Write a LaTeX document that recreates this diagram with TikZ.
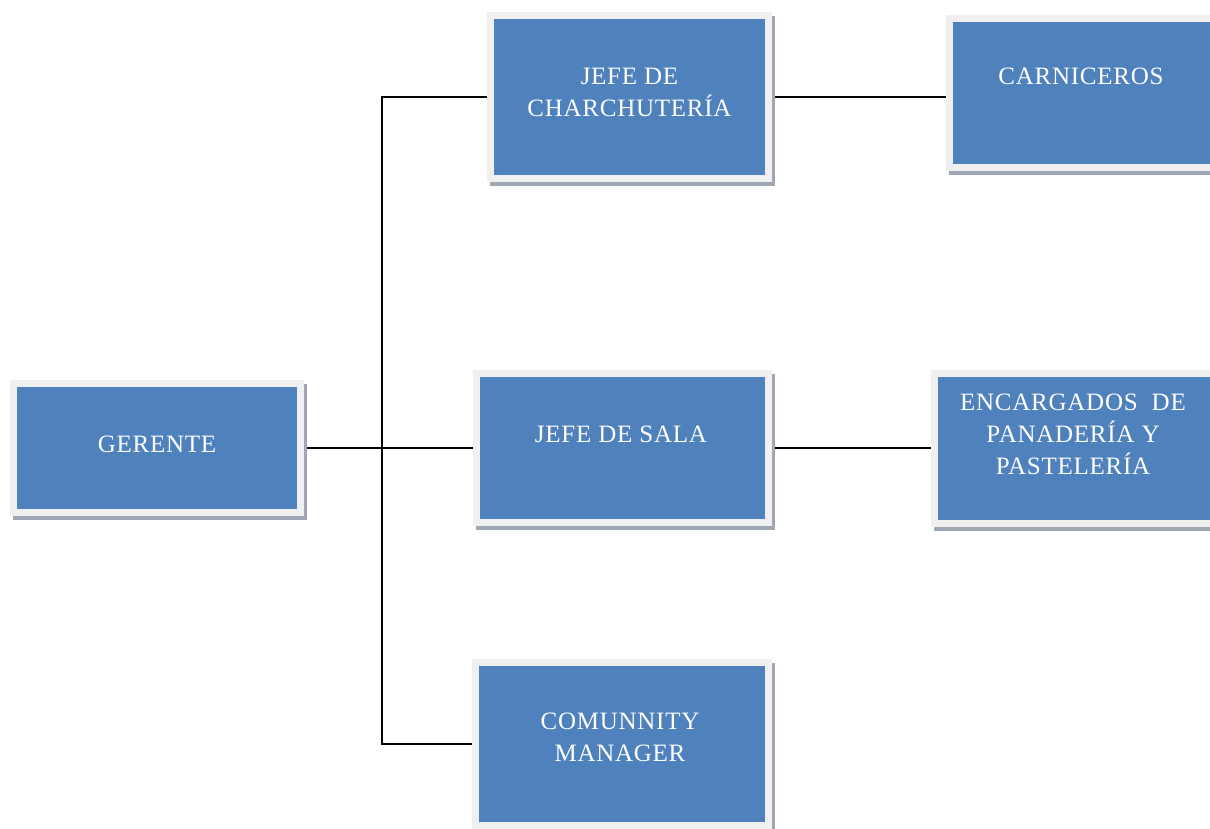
\documentclass[tikz,border=0pt]{standalone}
\usepackage{fontspec}
\setmainfont{Liberation Serif}[LetterSpace=3]
\usetikzlibrary{backgrounds}
\definecolor{boxblue}{HTML}{4F81BD}
\definecolor{framegrey}{HTML}{F0F0F0}
\definecolor{shadowc}{HTML}{9EA7B3}
\tikzset{
  orgbox/.style={rectangle, fill=boxblue, draw=framegrey, line width=7pt, inner sep=0pt,
    preaction={draw=shadowc, fill=shadowc, line width=7pt, transform canvas={shift={(3pt,-4pt)}}}},
  boxtext/.style={text=white, align=center, font=\fontsize{25}{32}\selectfont, inner sep=0pt},
  link/.style={draw=black, line width=1.4pt}
}
\begin{document}
\begin{tikzpicture}[x=1pt,y=-1pt]
\useasboundingbox (0,0) rectangle (1210,828);
\clip (0,0) rectangle (1210,828);
% boxes (size = visible blue + 7)
\node[orgbox, minimum width=287pt, minimum height=129pt] (ger) at (157,448) {};
\node[orgbox, minimum width=278pt, minimum height=163pt] (charch) at (629.5,97) {};
\node[orgbox, minimum width=269pt, minimum height=149pt] (carn) at (1084,93) {};
\node[orgbox, minimum width=292pt, minimum height=149pt] (sala) at (622.5,448) {};
\node[orgbox, minimum width=284pt, minimum height=150pt] (enc) at (1076.5,448) {};
\node[orgbox, minimum width=293pt, minimum height=163pt] (comm) at (622,744) {};
% texts
\node[boxtext] (tger) at (157,444) {GERENTE};
\node[boxtext] (tcharch) at (629.5,92) {JEFE DE\\CHARCHUTERÍA};
\node[boxtext] (tcarn) at (1081,76) {CARNICEROS};
\node[boxtext] (tsala) at (621,434) {JEFE DE SALA};
\node[boxtext] (tenc) at (1073,434) {ENCARGADOS\ \ DE\\PANADERÍA Y\\PASTELERÍA};
\node[boxtext] (tcomm) at (620,737) {COMUNNITY\\MANAGER};
\coordinate (trunk) at (382,448);
% connectors
\begin{scope}[on background layer]
\draw[link] (ger.east) -- (sala.west);
\draw[link] (charch.west) -- (charch.west -| trunk) -- (comm.west -| trunk) -- (comm.west);
\draw[link] (charch.east) -- (charch.east -| carn.west);
\draw[link] (sala.east) -- (sala.east -| enc.west);
\end{scope}
\end{tikzpicture}
\end{document}
